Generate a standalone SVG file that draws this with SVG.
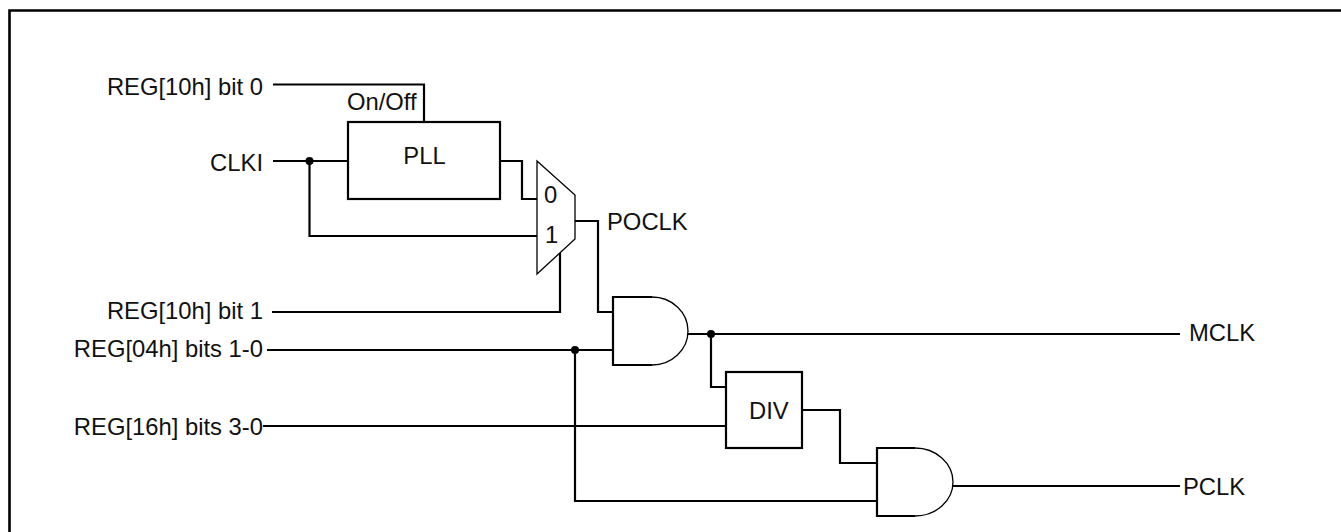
<svg xmlns="http://www.w3.org/2000/svg" width="1341" height="532" viewBox="0 0 1341 532">
<style>
text{font-family:"Liberation Sans",Arial,sans-serif;font-size:23.8px;fill:#111}
.w{fill:none;stroke:#000;stroke-width:2.2}
.b{fill:#fff;stroke:#000;stroke-width:2.2}
.thin{fill:none;stroke:#000;stroke-width:1.3}
.r{text-anchor:end}
.m{text-anchor:middle}
</style>
<rect width="1341" height="532" fill="#fff"/>
<path d="M9.5,532 V10.5 H1341" fill="none" stroke="#000" stroke-width="2.6"/>
<g id="connectors">
<path class="w" d="M273,84.5 H424 V122"/>
<path class="w" d="M273,161 H348"/>
<path class="w" d="M309.5,161 V236 H537"/>
<path class="w" d="M500,161 H522 V199 H537"/>
<path class="w" d="M575,221 H598 V312 H613"/>
<path class="w" d="M272,312 H560 V252"/>
<path class="w" d="M267,350 H613"/>
<path class="w" d="M575,350 V501 H877"/>
<path class="w" d="M688,334 H1180"/>
<path class="w" d="M711,334 V387 H726"/>
<path class="w" d="M263,426 H726"/>
<path class="w" d="M802,410 H840 V463 H877"/>
<path class="w" d="M953,486 H1180"/>
<circle cx="309.5" cy="161" r="4"/>
<circle cx="575" cy="350" r="4"/>
<circle cx="711" cy="334" r="4"/>
</g>
<g id="in-reg10-bit0"><text class="r" x="263" y="95">REG[10h] bit 0</text></g>
<g id="in-clki"><text class="r" x="263" y="170.5">CLKI</text></g>
<g id="in-reg10-bit1"><text class="r" x="263" y="318.5">REG[10h] bit 1</text></g>
<g id="in-reg04"><text class="r" x="263" y="357">REG[04h] bits 1-0</text></g>
<g id="in-reg16"><text class="r" x="263" y="435">REG[16h] bits 3-0</text></g>
<g id="pll">
<rect class="b" x="348" y="122" width="152" height="77"/>
<text class="m" x="424.5" y="164">PLL</text>
<text x="347" y="110">On/Off</text>
</g>
<g id="mux">
<polygon points="537,161 575,195 575,239 537,274" fill="#fff" stroke="#000" stroke-width="1.3"/>
<text x="544" y="203">0</text>
<text x="545" y="243">1</text>
<text x="607" y="230">POCLK</text>
</g>
<g id="and1">
<path d="M652,297 A36,34 0 0 1 652,365 Z" fill="#fff" stroke="none"/>
<path class="thin" d="M652,297 A36,34 0 0 1 652,365"/>
<path class="b" d="M652,297 H613 V365 H652"/>
</g>
<g id="div">
<rect class="b" x="726" y="372" width="76" height="76"/>
<text x="749" y="419">DIV</text>
</g>
<g id="and2">
<path d="M915,448 A38,34 0 0 1 915,516 Z" fill="#fff" stroke="none"/>
<path class="thin" d="M915,448 A38,34 0 0 1 915,516"/>
<path class="b" d="M915,448 H877 V516 H915"/>
</g>
<g id="out-mclk"><text x="1189" y="341">MCLK</text></g>
<g id="out-pclk"><text x="1183" y="495">PCLK</text></g>
</svg>
